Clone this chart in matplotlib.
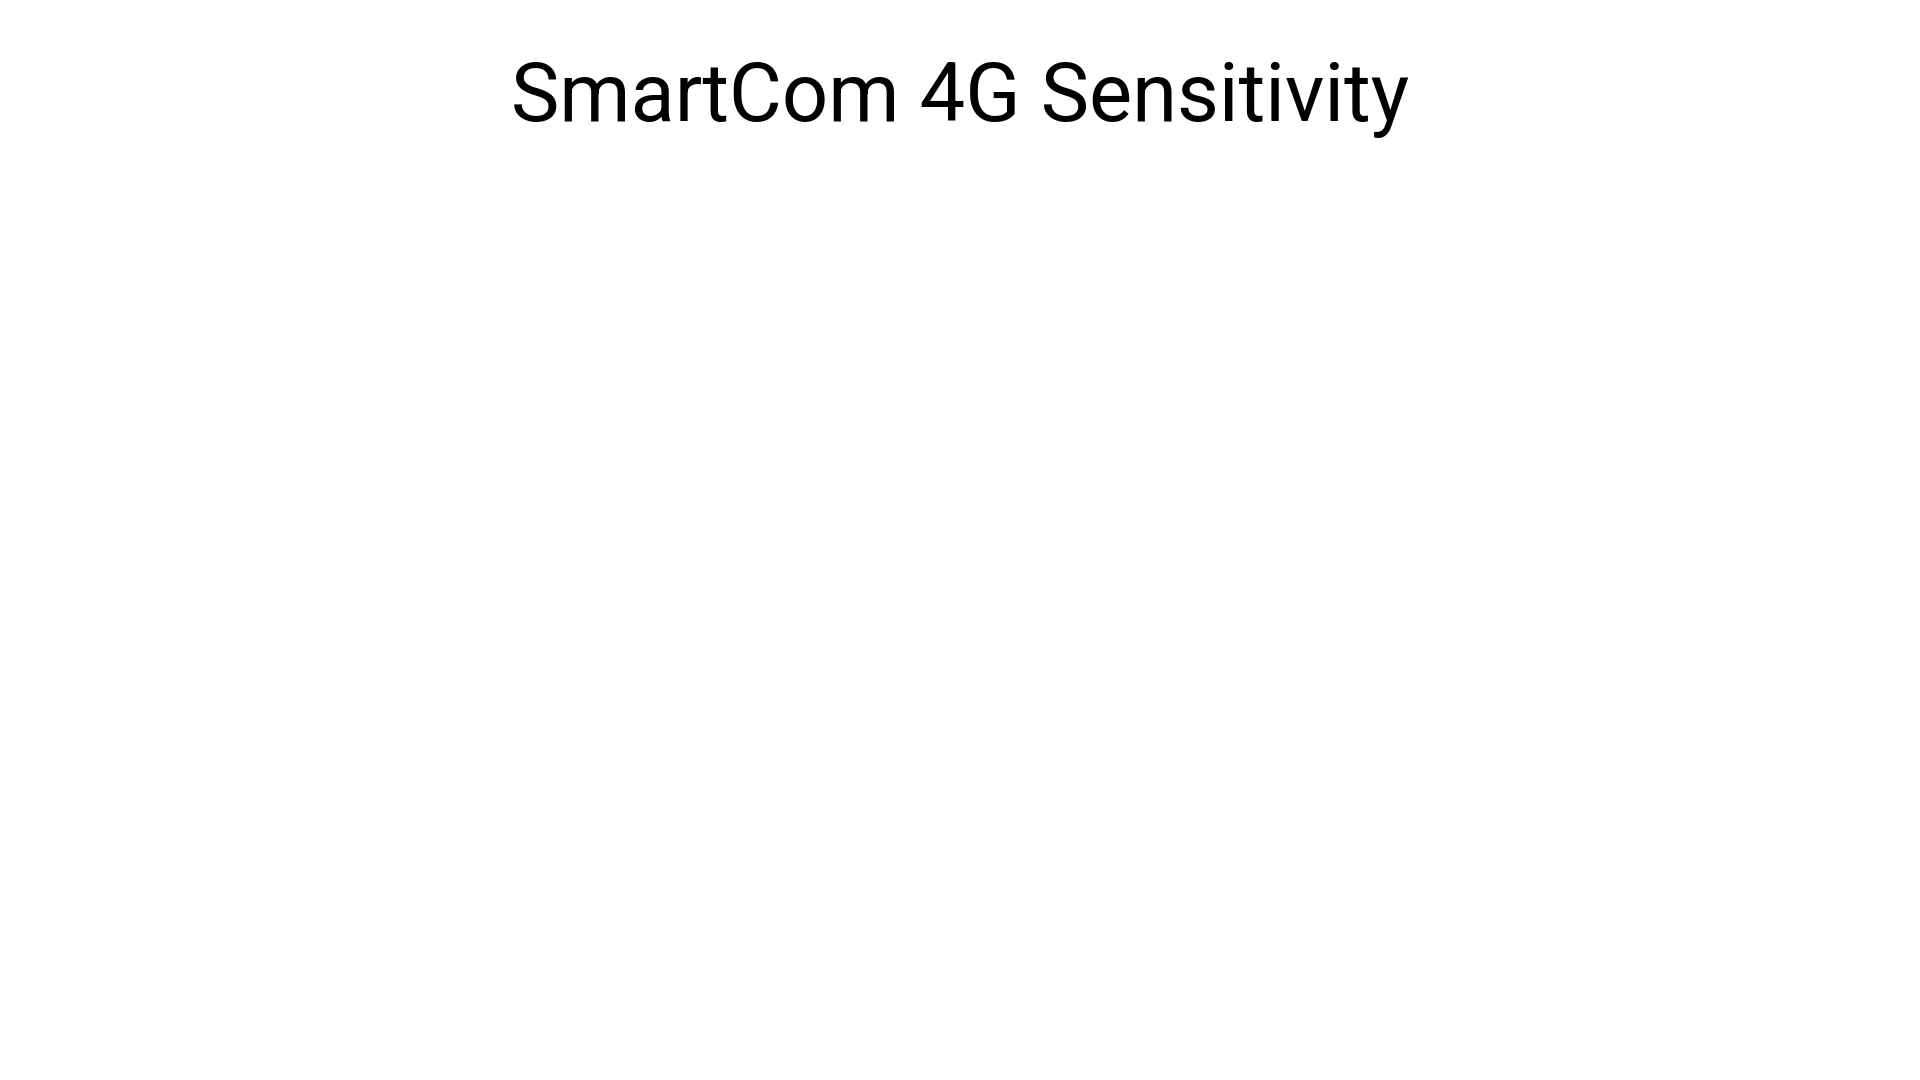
import matplotlib.pyplot as plt

plt.rcParams['font.family'] = ['Roboto', 'DejaVu Sans']

# the chart carries no series, only its title
title = 'SmartCom 4G Sensitivity'

fig = plt.figure(figsize=(19.2, 10.8), dpi=100)
fig.patch.set_facecolor('white')
fig.text(0.5, 1 - 121 / 1080, title, ha='center', va='baseline',
         fontsize=58.5, color='#000000')

fig.savefig('out.png', dpi=100, facecolor='white')
